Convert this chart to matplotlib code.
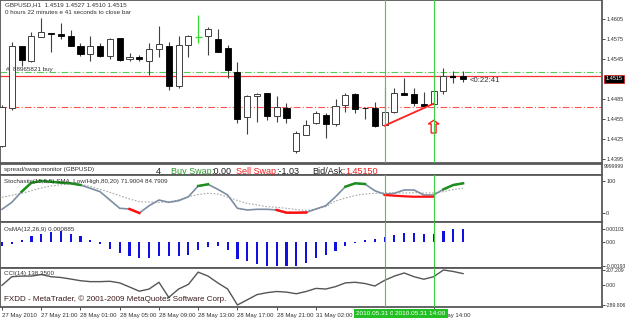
import matplotlib
matplotlib.use("Agg")
import matplotlib.pyplot as plt
from matplotlib.patches import Rectangle, Polygon
from matplotlib.transforms import blended_transform_factory

W, H = 625, 319

# ---- price data (H1 candles, GBPUSD) ----
opens = [1.4414, 1.4471, 1.4564, 1.4542, 1.4578, 1.4584, 1.4582, 1.4580, 1.4564, 1.4552,
         1.4564, 1.4549, 1.4576, 1.4545, 1.4548, 1.4542, 1.4560, 1.4564, 1.4504, 1.4566,
         1.4578, 1.4580, 1.4575, 1.4561, 1.4526, 1.4458, 1.4490, 1.4494, 1.4460, 1.4472,
         1.4407, 1.4431, 1.4449, 1.4461, 1.4448, 1.4476, 1.4493, 1.4472, 1.4472, 1.4446,
         1.4466, 1.4494, 1.4493, 1.4478, 1.4478, 1.4497, 1.4518, 1.4519]
highs = [1.4476, 1.4570, 1.4564, 1.4586, 1.4607, 1.4584, 1.4599, 1.4589, 1.4569, 1.4580,
         1.4569, 1.4577, 1.4577, 1.4554, 1.4551, 1.4569, 1.4595, 1.4570, 1.4580, 1.4581,
         1.4611, 1.4593, 1.4590, 1.4566, 1.4541, 1.4491, 1.4494, 1.4494, 1.4490, 1.4479,
         1.4437, 1.4454, 1.4467, 1.4464, 1.4485, 1.4494, 1.4494, 1.4473, 1.4481, 1.4503,
         1.4502, 1.4517, 1.4502, 1.4496, 1.4499, 1.4532, 1.4527, 1.4527]
lows = [1.4413, 1.4468, 1.4535, 1.4541, 1.4578, 1.4555, 1.4575, 1.4564, 1.4550, 1.4542,
        1.4548, 1.4545, 1.4542, 1.4542, 1.4542, 1.4521, 1.4548, 1.4499, 1.4502, 1.4548,
        1.4569, 1.4551, 1.4556, 1.4517, 1.4449, 1.4433, 1.4451, 1.4454, 1.4451, 1.4449,
        1.4404, 1.4431, 1.4448, 1.4427, 1.4445, 1.4466, 1.4464, 1.4455, 1.4443, 1.4445,
        1.4464, 1.4491, 1.4475, 1.4475, 1.4476, 1.4493, 1.4509, 1.4510]
closes = [1.4473, 1.4564, 1.4544, 1.4580, 1.4586, 1.4582, 1.4580, 1.4564, 1.4552, 1.4564,
          1.4550, 1.4575, 1.4544, 1.4548, 1.4545, 1.4560, 1.4567, 1.4505, 1.4566, 1.4580,
          1.4578, 1.4590, 1.4556, 1.4529, 1.4455, 1.4490, 1.4493, 1.4460, 1.4473, 1.4457,
          1.4434, 1.4446, 1.4464, 1.4448, 1.4475, 1.4491, 1.4470, 1.4471, 1.4445, 1.4466,
          1.4494, 1.4491, 1.4479, 1.4475, 1.4497, 1.4519, 1.4518, 1.4515]
marked_bar = 20          # bar drawn in green

price_ticks = [1.4605, 1.4575, 1.4545, 1.4485, 1.4455, 1.4425, 1.4395]
bid = 1.4515
order_price = 1.4519
tp_level = 1.4526
sl_level = 1.4473
trend_bars = [39, 44]
trend_prices = [1.4445, 1.4478]
arrow_bar = 44
arrow_top = 1.4453
vline_bars = [39, 44]
vline_labels = ["2010.05.31 09:00", "2010.05.31 14:00"]

# ---- stochastic ----
stoch_main = [11.6, 33.4, 66.6, 94.7, 100, 97.8, 94.7, 92.8, 87.5, 77.2,
              66.6, 40.6, 14.7, 12.5, 0, 22.8, 40.6, 33.4, 38.4, 50.9,
              84.4, 89.7, 74.0, 56.3, 14.7, 9.4, 11.6, 11.6, 9.4, 1.0,
              1.0, 1.6, 12.5, 22.8, 50.9, 82.2, 92.8, 90.6, 69.7, 58.4,
              61.6, 71.9, 71.9, 56.3, 56.3, 74.0, 87.5, 92.8]
stoch_signal = [49.1, 55.3, 61.6, 69.7, 78.1, 84.4, 88.1, 90.6, 89.7, 82.8,
                74.1, 64.7, 53.8, 43.8, 35.3, 34.4, 33.4, 34.4, 41.3, 50.6,
                57.8, 61.6, 59.4, 50.0, 39.1, 29.7, 25.0, 19.7, 17.8, 14.7,
                10.9, 7.8, 12.5, 19.7, 37.5, 46.9, 54.7, 59.4, 61.6, 63.4,
                62.5, 62.5, 63.4, 62.5, 62.5, 66.6, 73.4, 77.2]
stoch_green = [(2, 8), (20, 21), (35, 37), (45, 47)]
stoch_red = [(13, 14), (28, 31)]
stoch_red2_bars = [39, 40, 41, 42, 43, 44]
stoch_red2_vals = [56.3, 54.1, 52.2, 50.9, 50.9, 50.9]

# ---- OsMA ----
osma = [-0.00030, -0.00012, 0.00017, 0.00051, 0.00066, 0.00080, 0.00086, 0.00066, 0.00051, 0.00015,
        -0.00019, -0.00055, -0.00090, -0.00107, -0.00124, -0.00124, -0.00107, -0.00107, -0.00107, -0.00100,
        -0.00067, -0.00040, -0.00034, -0.00067, -0.00135, -0.00152, -0.00174, -0.00193, -0.00193, -0.00193,
        -0.00193, -0.00167, -0.00125, -0.00100, -0.00070, -0.00034, -0.00006, 0.00012, 0.00023, 0.00037,
        0.00057, 0.00075, 0.00075, 0.00066, 0.00066, 0.00089, 0.00103, 0.00103]

# ---- CCI ----
cci = [-10, 112, 121, 121, 143, 112, 101, 79, 55, 42,
       42, 47, 24, -34, -94, -63, 33, -182, -63, 3,
       177, 121, 24, -63, -289.8, -216, -142, -115, -98, -107,
       -130, -98, -54, -63, -29, 24, 33, 15, -20, 60,
       121, 165, 112, 76, 112, 207.2, 186, 156]

# labels at bars 36 and 40 sit fully under the green markers, so only 44 is kept
time_bars = [0, 4, 8, 12, 16, 20, 24, 28, 32, 44]
time_labels = ["27 May 2010", "27 May 21:00", "28 May 01:00", "28 May 05:00", "28 May 09:00",
               "28 May 13:00", "28 May 17:00", "28 May 21:00", "31 May 02:00", "31 May 14:00"]

# ---- layout (pixels) ----
X0, STEP, XR = 2.0, 9.81, 602
XLIM = (-X0 / STEP, (XR - X0) / STEP)
FS = 4.5       # small chart text
AXFS = 4.0     # right scale labels
TXT = "#303030"
GRID = "#585858"
GREEN_V = "#3fd03f"

plt.rcParams["font.family"] = ["Liberation Sans", "DejaVu Sans"]
fig = plt.figure(figsize=(W / 100, H / 100), dpi=100)
fig.patch.set_facecolor("white")


def panel(top, bottom):
    ax = fig.add_axes([0, 1 - bottom / H, XR / W, (bottom - top) / H])
    ax.set_xlim(*XLIM)
    ax.set_facecolor("white")
    for s in ax.spines.values():
        s.set_color(GRID)
        s.set_linewidth(1.3)
    ax.set_xticks([])
    ax.yaxis.tick_right()
    ax.tick_params(axis="y", length=2, width=0.6, pad=1.0, labelsize=AXFS,
                   colors=TXT, direction="out")
    return ax


def ftext(x, y, s, **kw):
    kw.setdefault("fontsize", FS)
    kw.setdefault("color", TXT)
    return fig.text(x / W, 1 - y / H, s, va="center", ha="left", **kw)


def text_run(x, y, parts, size):
    # draws pieces of text one after another on one line
    r = fig.canvas.get_renderer()
    for s, col in parts:
        t = ftext(x, y, s, fontsize=size, color=col)
        x += t.get_window_extent(renderer=r).width


# ---------------- main candle panel ----------------
ax = panel(0, 163)
ax.set_ylim(1.43890, 1.46335)
n = len(opens)
bw = 0.62
for i in range(n):
    o, h, l, c = opens[i], highs[i], lows[i], closes[i]
    if i == marked_bar:
        ax.vlines(i, l, h, color="#33dd33", lw=0.9, zorder=3)
        ax.hlines(c, i - 0.35, i + 0.35, color="#33dd33", lw=0.9, zorder=3)
        continue
    ax.vlines(i, l, h, color="#404040", lw=0.8, zorder=2)
    if abs(c - o) < 0.00006:
        ax.hlines(c, i - bw / 2, i + bw / 2, color="black", lw=1.6, zorder=3)
    elif c < o:
        ax.add_patch(Rectangle((i - bw / 2, c), bw, o - c, facecolor="black",
                               edgecolor="black", lw=0.6, zorder=3))
    else:
        ax.add_patch(Rectangle((i - bw / 2, o), bw, c - o, facecolor="white",
                               edgecolor="#404040", lw=0.7, zorder=3))

ax.axhline(tp_level, color="#55cc55", lw=0.8, dashes=(6, 2, 1, 2), zorder=1)
ax.axhline(order_price, color="#ff3030", lw=0.9, zorder=1)
ax.axhline(sl_level, color="#ff5050", lw=0.8, dashes=(6, 2, 1, 2), zorder=1)
ax.plot(trend_bars, trend_prices, color="#ff2020", lw=1.3, zorder=4)

# hollow up arrow under the signal bar
ah = 0.00055
arrow = [(arrow_bar, arrow_top), (arrow_bar - 0.55, arrow_top - ah),
         (arrow_bar - 0.25, arrow_top - ah), (arrow_bar - 0.25, arrow_top - 0.0019),
         (arrow_bar + 0.25, arrow_top - 0.0019), (arrow_bar + 0.25, arrow_top - ah),
         (arrow_bar + 0.55, arrow_top - ah)]
ax.add_patch(Polygon(arrow, closed=True, facecolor="white", edgecolor="#ff2020",
                     lw=1.0, zorder=4))

ax.set_yticks(price_ticks)
ax.set_yticklabels([f"{p:.4f}" for p in price_ticks])
tr = blended_transform_factory(ax.transAxes, ax.transData)
ax.text(1.006, bid, f"{bid:.4f}", transform=tr, fontsize=AXFS, color="white",
        va="center", ha="left", clip_on=False,
        bbox=dict(facecolor="black", edgecolor="#cc2020", pad=1.0, lw=0.6))

ftext(5, 5, "GBPUSD,H1  1.4519 1.4527 1.4510 1.4515")
ftext(5, 13, "0 hours 22 minutes e 41 seconds to close bar")
ftext(6, 69, "#  88965821 buy")
ftext(470, 80, "<0:22:41", fontsize=5.6)

# ---------------- swap monitor strip ----------------
sw = panel(164, 175)
sw.set_ylim(0, 1)
sw.set_yticks([])
ftext(4, 169.5, "spread/swap monitor (GBPUSD)")
big = 6.5
ftext(156, 171.5, "4", fontsize=big, color="#202020")
text_run(171, 171.5, [("Buy Swap", "#2f9a2f"), (":0.00", "#202020")], big)
text_run(236, 171.5, [("Sell Swap", "#ee2020"), (":-1.03", "#202020")], big)
text_run(312, 171.5, [("Bid/Ask:", "#202020"), ("1.45150", "#ee2020")], big)
ftext(604, 167, "9999999", fontsize=3.6)

# ---------------- stochastic ----------------
st = panel(175, 222)
st.set_ylim(-28.1, 118.75)
bars = list(range(n))
st.plot(bars, stoch_signal, color="#a8a8a8", lw=0.8, dashes=(1.5, 1.5))
st.plot(bars, stoch_main, color="#7d8ea3", lw=1.2)
for a, b in stoch_green:
    st.plot(bars[a:b + 1], stoch_main[a:b + 1], color="#1e8f1e", lw=1.8)
for a, b in stoch_red:
    st.plot(bars[a:b + 1], stoch_main[a:b + 1], color="#ff1010", lw=1.8)
st.plot(stoch_red2_bars, stoch_red2_vals, color="#ff1010", lw=1.6)
st.set_yticks([100, 0])
st.set_yticklabels(["100", "0"])
ftext(4, 181, "Stochastic(15,5,5) SMA, Low/High,80,20) 71.9004 84.7909")

# ---------------- OsMA ----------------
om = panel(222, 268)
om.set_ylim(-0.00206, 0.001585)
om.bar(bars, osma, width=0.22, color="#1010e0", edgecolor="none")
om.set_yticks([0.00103, 0, -0.00193])
om.set_yticklabels(["0.00103", "0.00", "-0.00193"])
om.tick_params(axis="y", labelsize=3.7)
ftext(4, 229, "OsMA(12,26,9) 0.000885")

# ---------------- CCI ----------------
cc = panel(268, 307)
cc.set_ylim(-318.2, 235.6)
cc.plot(bars, cci, color="#555555", lw=1.0)
cc.set_yticks([207.209, 0, -289.806])
cc.set_yticklabels(["207.209", "0.00", "-289.806"])
cc.tick_params(axis="y", labelsize=3.7)
ftext(4, 273, "CCI(14) 138.3500")
ftext(4, 299, "FXDD - MetaTrader, \u00a9 2001-2009 MetaQuotes Software Corp.",
      fontsize=5.8, color="#3a1a1a")

cc.set_xticks(time_bars)
cc.set_xticklabels(time_labels, ha="left")
cc.tick_params(axis="x", length=2.5, width=0.6, pad=1.5, labelsize=4.3, colors=TXT)

for a in (ax, st, om, cc):
    for b in vline_bars:
        a.axvline(b, color=GREEN_V, lw=0.8, zorder=5)

# green time markers for the vertical lines
ctr = blended_transform_factory(cc.transData, cc.transAxes)
for b, lab, off in zip(vline_bars, vline_labels, (-2.9, -3.9)):
    cc.text(b + off, -0.16, lab, transform=ctr, fontsize=4.6, color="white",
            va="center", ha="left", clip_on=False, zorder=10,
            bbox=dict(facecolor="#22c022", edgecolor="none", pad=1.4))

fig.savefig("out.png", dpi=100, facecolor="white")
